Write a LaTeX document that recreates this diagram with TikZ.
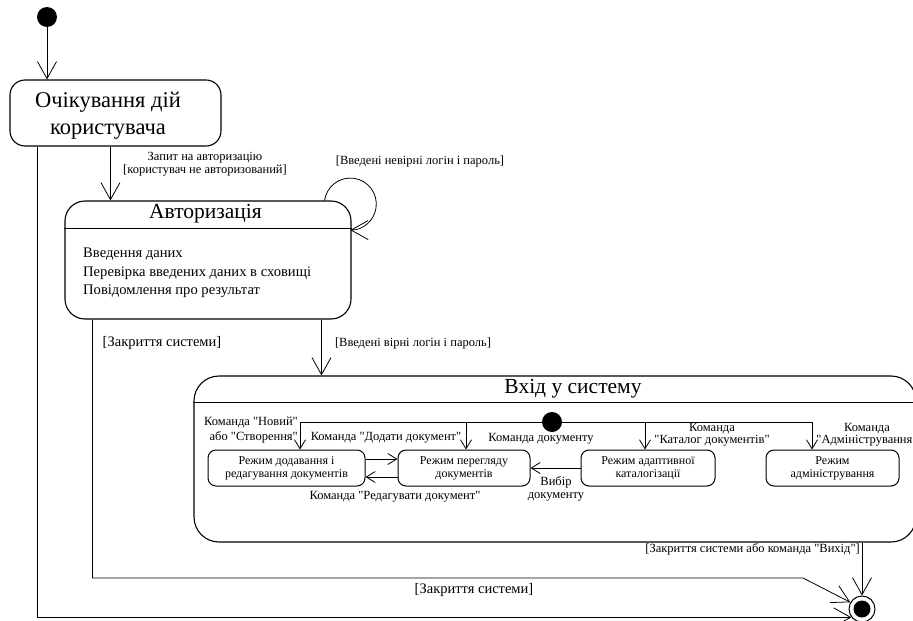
\documentclass[tikz,border=0pt]{standalone}
\usepackage{fontspec}
\setmainfont{Liberation Serif}[Ligatures=TeXOff]
\usetikzlibrary{arrows.meta}

\begin{document}
\begin{tikzpicture}[x=1pt,y=1pt,
        every node/.style={inner sep=0pt},
        bigstate/.style={draw, line width=1.1pt},
        substate/.style={draw, line width=1pt, rounded corners=8pt, align=center,
            minimum height=36pt, font=\fontsize{12}{13}\selectfont},
        trans/.style={line width=0.8pt, -{Straight Barb[length=17pt,width=19pt]}},
        subtrans/.style={line width=0.8pt, -{Straight Barb[length=9pt,width=11pt]}},
        lbl/.style={align=center, font=\fontsize{12.5}{13.5}\selectfont}]
        \useasboundingbox (0,0) rectangle (913,-621);
        % states
        \node[circle, fill, minimum size=20pt] (init) at (47,-17) {};
        \node[bigstate, rounded corners=15pt, minimum width=211pt, minimum height=66pt] (idle) at (115.5,-113) {};
        \node[align=center, font=\fontsize{22.5}{27}\selectfont] (idletitle) at (108,-116)
            {Очікування дій\\користувача};
        \node[bigstate, rounded corners=20pt, minimum width=286pt, minimum height=118pt] (auth) at (208,-260) {};
        \node[font=\fontsize{21.5}{25}\selectfont] (authtitle) at (205.5,-214) {Авторизація};
        \node[anchor=north west, align=left, font=\fontsize{14.6}{18.5}\selectfont] (authbody) at (83,-248)
            {Введення даних\\Перевірка введених даних в сховищі\\Повідомлення про результат};
        \draw[line width=1pt] ([yshift=-28pt]auth.north west) -- ([yshift=-28pt]auth.north east);
        \node[bigstate, rounded corners=25pt, minimum width=722pt, minimum height=166pt] (login) at (555,-459) {};
        \node[font=\fontsize{21.5}{25}\selectfont] (logintitle) at (573,-389) {Вхід у систему};
        \draw[line width=1pt] ([yshift=-27pt]login.north west) -- ([yshift=-27pt]login.north east);
        \node[substate, minimum width=157pt] (addedit) at (286.5,-468) {Режим додавання і\\редагування документів};
        \node[substate, minimum width=132pt] (view) at (464,-468) {Режим перегляду\\документів};
        \node[substate, minimum width=134pt] (catalog) at (648,-468) {Режим адаптивної\\каталогізації};
        \node[substate, minimum width=133pt] (admin) at (832.5,-468) {Режим\\адміністрування};
        \node[circle, draw, line width=1pt, fill=white, minimum size=26pt] (final) at (862,-609) {};
        \fill (final) circle (8.5);
        % transitions
        \draw[trans] (init) -- (init |- idle.north);
        \draw[trans] ([xshift=101pt]idle.south west) -- ([xshift=46pt]auth.north west);
        \node[lbl] at (205,-164) {Запит на авторизацію\\{[}користувач не авторизований{]}};
        \draw[trans] ([xshift=-27pt]auth.north east) arc[start angle=172, end angle=-90, radius=26];
        \node[lbl] at (420,-161) {[Введені невірні логін і пароль]};
        \draw[trans] ([xshift=257pt]auth.south west) -- ([xshift=128pt]login.north west);
        \node[lbl] at (413,-343) {[Введені вірні логін і пароль]};
        \node[lbl, font=\fontsize{14.5}{15}\selectfont] at (162,-343) {[Закриття системи]};
        \coordinate (bend) at (803,-578);
        \draw[trans] ([xshift=28pt]auth.south west) |- (bend) -- (final.150);
        \draw[trans] ([xshift=28pt]idle.south west) |- (final.218);
        \node[lbl, font=\fontsize{14.5}{15}\selectfont] at (474,-590) {[Закриття системи]};
        \draw[trans] (final.north |- login.south) -- (final);
        \node[lbl, anchor=east] at (860,-549) {[Закриття системи або команда "Вихід"]};
        % inside login
        \coordinate (b1) at (300,-422);
        \coordinate (b2) at (466,-422);
        \coordinate (b3) at (645,-422);
        \coordinate (b4) at (812,-422);
        \draw[line width=0.8pt] (b1) -- (b4);
        \node[circle, fill, minimum size=20pt] (subinit) at (552,-422) {};
        \draw[subtrans] (b1) -- (b1 |- addedit.north);
        \draw[subtrans] (b2) -- (b2 |- view.north);
        \draw[subtrans] (b3) -- (b3 |- catalog.north);
        \draw[subtrans] (b4) -- (b4 |- admin.north);
        \draw[subtrans] ([yshift=9pt]addedit.east) -- ([yshift=9pt]view.west);
        \draw[subtrans] ([yshift=-9pt]view.west) -- ([yshift=-9pt]addedit.east);
        \draw[subtrans] (catalog.west) -- (view.east);
        \node[lbl, anchor=east, align=right, font=\fontsize{12.5}{15}\selectfont] at (298,-430.5) {Команда "Новий"\\або "Створення"};
        \node[lbl] at (386,-438) {Команда "Додати документ"};
        \node[lbl] at (541,-439) {Команда документу};
        \node[lbl, font=\fontsize{12.5}{12.5}\selectfont] at (712,-435) {Команда\\"Каталог документів"};
        \node[lbl, font=\fontsize{12.5}{12.5}\selectfont] at (867,-435) {Команда\\"Адміністрування"};
        \node[lbl] at (395,-497) {Команда "Редагувати документ"};
        \node[lbl] at (556,-489) {Вибір\\документу};
\end{tikzpicture}
\end{document}
